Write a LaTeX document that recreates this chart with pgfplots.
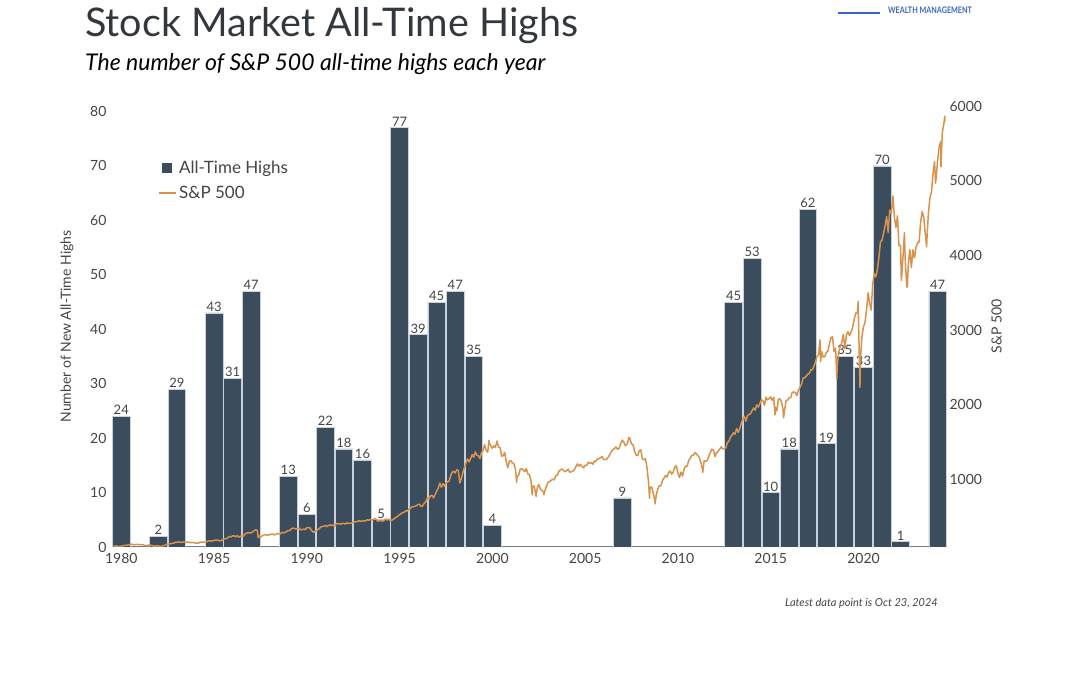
\documentclass[border=0pt]{standalone}
\usepackage{fontspec}
\setmainfont{Lato}
\usepackage{pgfplots}
\pgfplotsset{compat=1.18}
\usepackage{pgfplotstable}
\pgfkeys{/pgf/number format/assume math mode=true}

\definecolor{barc}{RGB}{59,76,92}
\definecolor{barline}{RGB}{200,210,220}
\definecolor{spc}{RGB}{216,146,76}
\definecolor{txt}{RGB}{68,68,68}
\definecolor{ttl}{RGB}{50,56,62}
\definecolor{logo}{RGB}{60,100,200}
\definecolor{axl}{RGB}{110,120,130}

\pgfplotstableread{
year n
1980 24
1982 2
1983 29
1985 43
1986 31
1987 47
1989 13
1990 6
1991 22
1992 18
1993 16
1994 5
1995 77
1996 39
1997 45
1998 47
1999 35
2000 4
2007 9
2013 45
2014 53
2015 10
2016 18
2017 62
2018 19
2019 35
2020 33
2021 70
2022 1
2024 47
}\hightable

\pgfplotstableread{
y m v
1980 0 105.8
1980 1 114.2
1980 2 113.7
1980 3 102.1
1980 4 106.3
1980 5 111.2
1980 6 114.2
1980 7 121.7
1980 8 122.4
1980 9 125.5
1980 10 127.5
1980 11 140.5
1980 12 135.8
1981 1 129.6
1981 2 131.3
1981 3 136.0
1981 4 132.8
1981 5 132.6
1981 6 131.2
1981 7 130.9
1981 8 122.8
1981 9 116.2
1981 10 121.9
1981 11 126.4
1981 12 122.6
1982 1 120.4
1982 2 113.1
1982 3 112.0
1982 4 116.4
1982 5 111.9
1982 6 109.6
1982 7 107.1
1982 8 119.5
1982 9 120.4
1982 10 133.7
1982 11 138.5
1982 12 140.6
1983 1 145.3
1983 2 148.1
1983 3 153.0
1983 4 164.4
1983 5 162.4
1983 6 168.1
1983 7 162.6
1983 8 164.4
1983 9 166.1
1983 10 163.6
1983 11 166.4
1983 12 164.9
1984 1 163.4
1984 2 157.1
1984 3 159.2
1984 4 160.1
1984 5 150.6
1984 6 153.2
1984 7 150.7
1984 8 166.7
1984 9 166.1
1984 10 166.1
1984 11 163.6
1984 12 167.2
1985 1 179.6
1985 2 181.2
1985 3 180.7
1985 4 179.8
1985 5 189.6
1985 6 191.9
1985 7 190.9
1985 8 188.6
1985 9 182.1
1985 10 189.8
1985 11 202.2
1985 12 211.3
1986 1 211.8
1986 2 226.9
1986 3 238.9
1986 4 235.5
1986 5 247.4
1986 6 250.8
1986 7 236.1
1986 8 252.9
1986 9 231.3
1986 10 244.0
1986 11 249.2
1986 12 242.2
1987 1 274.1
1987 2 284.2
1987 3 291.7
1987 4 288.4
1987 5 290.1
1987 6 304.0
1987 7 318.7
1987 8 329.8
1987 9 321.8
1987 9.6 224.8
1987 10 251.8
1987 11 230.3
1987 12 247.1
1988 1 257.1
1988 2 267.8
1988 3 258.9
1988 4 261.3
1988 5 262.2
1988 6 273.5
1988 7 272.0
1988 8 261.5
1988 9 272.0
1988 10 279.0
1988 11 273.7
1988 12 277.7
1989 1 297.5
1989 2 288.9
1989 3 294.9
1989 4 309.6
1989 5 320.5
1989 6 318.0
1989 7 346.1
1989 8 351.5
1989 9 349.2
1989 10 340.4
1989 11 346.0
1989 12 353.4
1990 1 329.1
1990 2 331.9
1990 3 339.9
1990 4 330.8
1990 5 361.2
1990 6 358.0
1990 7 356.2
1990 8 322.6
1990 9 306.1
1990 9.35 295.5
1990 10 304.0
1990 11 322.2
1990 12 330.2
1991 1 343.9
1991 2 367.1
1991 3 375.2
1991 4 375.3
1991 5 389.8
1991 6 371.2
1991 7 387.8
1991 8 395.4
1991 9 387.9
1991 10 392.5
1991 11 375.2
1991 12 417.1
1992 1 408.8
1992 2 412.7
1992 3 403.7
1992 4 415.0
1992 5 415.4
1992 6 408.1
1992 7 424.2
1992 8 414.0
1992 9 417.8
1992 10 418.7
1992 11 431.4
1992 12 435.7
1993 1 438.8
1993 2 443.4
1993 3 451.7
1993 4 440.2
1993 5 450.2
1993 6 450.5
1993 7 448.1
1993 8 463.6
1993 9 458.9
1993 10 467.8
1993 11 461.8
1993 12 466.5
1994 1 481.6
1994 2 467.1
1994 3 445.8
1994 4 450.9
1994 5 456.5
1994 6 444.3
1994 7 458.3
1994 8 475.5
1994 9 462.7
1994 10 472.4
1994 11 453.7
1994 12 459.3
1995 1 470.4
1995 2 487.4
1995 3 500.7
1995 4 514.7
1995 5 533.4
1995 6 544.8
1995 7 562.1
1995 8 561.9
1995 9 584.4
1995 10 581.5
1995 11 605.4
1995 12 615.9
1996 1 636.0
1996 2 640.4
1996 3 645.5
1996 4 654.2
1996 5 669.1
1996 6 670.6
1996 7 639.9
1996 8 652.0
1996 9 687.3
1996 10 705.3
1996 11 757.0
1996 12 740.7
1997 1 786.2
1997 2 790.8
1997 3 757.1
1997 4 801.3
1997 5 848.3
1997 6 885.1
1997 7 954.3
1997 8 899.5
1997 9 947.3
1997 10 914.6
1997 11 955.4
1997 12 970.4
1998 1 980.3
1998 2 1049.3
1998 3 1101.8
1998 4 1111.8
1998 5 1090.8
1998 6 1133.8
1998 7 1120.7
1998 8 957.3
1998 9 1017.0
1998 10 1098.7
1998 11 1163.6
1998 12 1229.2
1999 1 1279.6
1999 2 1238.3
1999 3 1286.4
1999 4 1335.2
1999 5 1301.8
1999 6 1372.7
1999 7 1328.7
1999 8 1320.4
1999 9 1282.7
1999 10 1362.9
1999 11 1388.9
1999 12 1469.3
2000 1 1394.5
2000 2 1366.4
2000 2.8 1527.5
2000 3 1498.6
2000 4 1452.4
2000 5 1420.6
2000 6 1454.6
2000 7 1430.8
2000 8 1517.7
2000 9 1436.5
2000 10 1429.4
2000 11 1315.2
2000 12 1320.3
2001 1 1366.0
2001 2 1239.9
2001 3 1160.3
2001 4 1249.5
2001 5 1255.8
2001 6 1224.4
2001 7 1211.2
2001 8 1133.6
2001 8.7 965.8
2001 9 1040.9
2001 10 1059.8
2001 11 1139.5
2001 12 1148.1
2002 1 1130.2
2002 2 1106.7
2002 3 1147.4
2002 4 1076.9
2002 5 1067.1
2002 6 989.8
2002 6.75 797.7
2002 7 911.6
2002 8 916.1
2002 9 815.3
2002 9.3 776.8
2002 10 885.8
2002 11 936.3
2002 12 879.8
2003 1 855.7
2003 2 841.2
2003 2.35 800.7
2003 3 848.2
2003 4 916.9
2003 5 963.6
2003 6 974.5
2003 7 990.3
2003 8 1008.0
2003 9 996.0
2003 10 1050.7
2003 11 1058.2
2003 12 1111.9
2004 1 1131.1
2004 2 1144.9
2004 3 1126.2
2004 4 1107.3
2004 5 1120.7
2004 6 1140.8
2004 7 1101.7
2004 8 1104.2
2004 9 1114.6
2004 10 1130.2
2004 11 1173.8
2004 12 1211.9
2005 1 1181.3
2005 2 1203.6
2005 3 1180.6
2005 4 1156.9
2005 5 1191.5
2005 6 1191.3
2005 7 1234.2
2005 8 1220.3
2005 9 1228.8
2005 10 1207.0
2005 11 1249.5
2005 12 1248.3
2006 1 1280.1
2006 2 1280.7
2006 3 1294.8
2006 4 1310.6
2006 5 1270.1
2006 6 1270.2
2006 7 1276.7
2006 8 1303.8
2006 9 1335.9
2006 10 1377.9
2006 11 1400.6
2006 12 1418.3
2007 1 1438.2
2007 2 1406.8
2007 3 1420.9
2007 4 1482.4
2007 5 1530.6
2007 6 1503.4
2007 7 1455.3
2007 8 1474.0
2007 9 1526.8
2007 9.3 1565.2
2007 10 1549.4
2007 11 1481.1
2007 12 1468.4
2008 1 1378.6
2008 2 1330.6
2008 3 1322.7
2008 4 1385.6
2008 5 1400.4
2008 6 1280.0
2008 7 1267.4
2008 8 1282.8
2008 9 1166.4
2008 10 968.8
2008 10.65 752.4
2008 11 896.2
2008 12 903.3
2009 1 825.9
2009 2 735.1
2009 2.3 676.5
2009 3 797.9
2009 4 872.8
2009 5 919.1
2009 6 919.3
2009 7 987.5
2009 8 1020.6
2009 9 1057.1
2009 10 1036.2
2009 11 1095.6
2009 12 1115.1
2010 1 1073.9
2010 2 1104.5
2010 3 1169.4
2010 4 1186.7
2010 5 1089.4
2010 6 1030.7
2010 7 1101.6
2010 8 1049.3
2010 9 1141.2
2010 10 1183.3
2010 11 1180.6
2010 12 1257.6
2011 1 1286.1
2011 2 1327.2
2011 3 1325.8
2011 4 1363.6
2011 5 1345.2
2011 6 1320.6
2011 7 1292.3
2011 8 1218.9
2011 9 1131.4
2011 9.1 1099.2
2011 10 1253.3
2011 11 1247.0
2011 12 1257.6
2012 1 1312.4
2012 2 1365.7
2012 3 1408.5
2012 4 1397.9
2012 5 1310.3
2012 6 1362.2
2012 7 1379.3
2012 8 1406.6
2012 9 1440.7
2012 10 1412.2
2012 11 1416.2
2012 12 1426.2
2013 1 1498.1
2013 2 1514.7
2013 3 1569.2
2013 4 1597.6
2013 5 1630.7
2013 6 1606.3
2013 7 1685.7
2013 8 1633.0
2013 9 1681.6
2013 10 1756.5
2013 11 1805.8
2013 12 1848.4
2014 1 1782.6
2014 2 1859.5
2014 3 1872.3
2014 4 1884.0
2014 5 1923.6
2014 6 1960.2
2014 7 1930.7
2014 8 2003.4
2014 9 1972.3
2014 10 2018.1
2014 11 2067.6
2014 12 2058.9
2015 1 1995.0
2015 2 2104.5
2015 3 2067.9
2015 4 2085.5
2015 5 2107.4
2015 6 2063.1
2015 7 2103.8
2015 7.8 1867.6
2015 8 1972.2
2015 9 1920.0
2015 10 2079.4
2015 11 2080.4
2015 12 2043.9
2016 1 1940.2
2016 1.35 1829.1
2016 2 1932.2
2016 3 2059.7
2016 4 2065.3
2016 5 2097.0
2016 6 2098.9
2016 7 2173.6
2016 8 2171.0
2016 9 2168.3
2016 10 2126.2
2016 11 2198.8
2016 12 2238.8
2017 1 2278.9
2017 2 2363.6
2017 3 2362.7
2017 4 2384.2
2017 5 2411.8
2017 6 2423.4
2017 7 2470.3
2017 8 2471.7
2017 9 2519.4
2017 10 2575.3
2017 11 2647.6
2017 12 2673.6
2018 0.85 2872.9
2018 1 2823.8
2018 1.3 2581.0
2018 2 2713.8
2018 3 2640.9
2018 4 2648.1
2018 5 2705.3
2018 6 2718.4
2018 7 2816.3
2018 8 2901.5
2018 9 2914.0
2018 10 2711.7
2018 11 2760.2
2018 11.8 2351.1
2018 12 2506.9
2019 1 2704.1
2019 2 2784.5
2019 3 2834.4
2019 4 2945.8
2019 5 2752.1
2019 6 2941.8
2019 7 2980.4
2019 8 2926.5
2019 9 2976.7
2019 10 3037.6
2019 11 3141.0
2019 12 3230.8
2020 1 3225.5
2020 1.6 3386.2
2020 2 2954.2
2020 2.75 2237.4
2020 3 2584.6
2020 4 2912.4
2020 5 3044.3
2020 6 3100.3
2020 7 3271.1
2020 8 3500.3
2020 9 3363.0
2020 10 3270.0
2020 11 3621.6
2020 12 3756.1
2021 1 3714.2
2021 2 3811.2
2021 3 3972.9
2021 4 4181.2
2021 5 4204.1
2021 6 4297.5
2021 7 4395.3
2021 8 4522.7
2021 9 4307.5
2021 10 4605.4
2021 11 4567.0
2021 12 4766.2
2022 0.1 4796.6
2022 1 4515.6
2022 2 4373.9
2022 3 4530.4
2022 4 4131.9
2022 5 4132.2
2022 5.5 3666.8
2022 6 3785.4
2022 7 4130.3
2022 7.5 4305.2
2022 8 3955.0
2022 9 3585.6
2022 9.4 3577.0
2022 10 3872.0
2022 11 4080.1
2022 12 3839.5
2023 1 4076.6
2023 2 3970.2
2023 3 4109.3
2023 4 4169.5
2023 5 4179.8
2023 6 4450.4
2023 7 4589.0
2023 8 4507.7
2023 9 4288.1
2023 9.87 4117.4
2023 10 4193.8
2023 11 4567.8
2023 12 4769.8
2024 1 4845.7
2024 2 5096.3
2024 3 5254.4
2024 3.6 4967.2
2024 4 5035.7
2024 5 5277.5
2024 6 5460.5
2024 7 5522.3
2024 7.15 5186.3
2024 8 5648.4
2024 9 5762.5
2024 9.6 5864.7
2024 9.75 5797.4
}\sptable

\begin{document}
\begin{tikzpicture}[x=1pt,y=1pt]
\useasboundingbox (0,0) rectangle (1080,675);
% titles
\node[anchor=base west, inner sep=0, text=ttl, font=\fontsize{39.5}{39.5}\selectfont] at (85,638) {Stock Market All-Time Highs};
\node[anchor=base west, inner sep=0, text=black, font=\fontsize{23}{23}\selectfont\itshape] at (85,604) {The number of S\&P 500 all-time highs each year};
\node[anchor=base east, inner sep=0, text=txt, font=\fontsize{11}{11}\selectfont\itshape] at (938,68) {Latest data point is Oct 23, 2024};
% logo text
\draw[logo, line width=2pt] (838,662) -- (880,662);
\node[anchor=base west, inner sep=0, text=logo, xscale=0.8, font=\fontsize{9}{9}\selectfont\bfseries] at (888,661) {WEALTH MANAGEMENT};

\begin{axis}[
  at={(112pt,128pt)}, anchor=south west, scale only axis,
  width=835pt, height=441pt,
  xmin=1979.5, xmax=2024.5, ymin=0, ymax=81,
  axis x line*=bottom, axis y line*=left,
  x axis line style={-, draw=axl, line width=1pt},
  y axis line style={draw=none},
  major tick length=0pt,
  xtick={1980,1985,...,2020},
  ytick={0,10,...,80},
  /pgf/number format/1000 sep={},
  tick label style={font=\fontsize{14}{14}\selectfont, text=txt},
  xticklabel style={yshift=-3pt},
  yticklabel style={xshift=-2pt},
  ylabel={Number of New All-Time Highs},
  ylabel style={font=\fontsize{14}{14}\selectfont, text=txt, at={(axis description cs:-0.042,0.5)}, anchor=south},
  legend style={draw=none, fill=none, font=\fontsize{17}{17}\selectfont, text=txt,
    at={(axis description cs:0.052,0.885)}, anchor=north west, row sep=7pt,
    /tikz/every even column/.append style={column sep=6pt}},
  legend cell align=left,
]
\addplot[ybar, bar width=17.6pt, fill=barc, draw=barline, line width=0.7pt,
  nodes near coords,
  nodes near coords style={font=\fontsize{13}{13}\selectfont, text=txt, inner sep=1pt, anchor=south},
  legend image code/.code={\fill[barc] (3pt,-4.5pt) rectangle (12pt,4.5pt);}]
  table[x=year, y=n]{\hightable};
\addlegendentry{All-Time Highs}
\addlegendimage{line legend, spc, line width=1.5pt}
\addlegendentry{S\&P 500}
\end{axis}

\begin{axis}[
  at={(112pt,128pt)}, anchor=south west, scale only axis,
  width=835pt, height=441pt,
  xmin=1979.5, xmax=2024.5, ymin=100, ymax=6000,
  axis x line=none, axis y line*=right,
  y axis line style={draw=none},
  major tick length=0pt,
  ytick={1000,2000,...,6000},
  /pgf/number format/1000 sep={},
  tick label style={font=\fontsize{14}{14}\selectfont, text=txt},
  yticklabel style={xshift=-1pt},
  ylabel={S\&P 500},
  ylabel style={font=\fontsize{14}{14}\selectfont, text=txt, at={(axis description cs:1.049,0.5)}, anchor=north, rotate=0},
]
\addplot[spc, line width=1.5pt, line join=round, mark=none]
  table[x expr=\thisrow{y}+\thisrow{m}/12-0.42, y=v]{\sptable};
\end{axis}
\end{tikzpicture}
\end{document}
